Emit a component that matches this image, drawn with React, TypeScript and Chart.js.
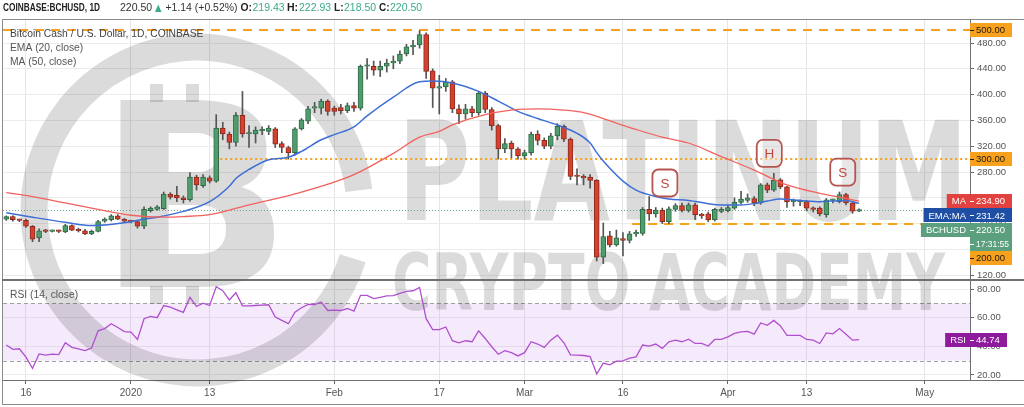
import React, { useEffect, useRef } from 'react';
import { Chart, registerables } from 'chart.js';

Chart.register(...registerables);

const FONT = '"Liberation Sans", "DejaVu Sans", Arial, sans-serif';

// Day offsets counted from 2020-01-01 (= day 0). First candle: 2019-12-13.
const firstCandleDay = -19;

const opens = [
  207, 211, 206, 205, 196, 178, 189, 188, 189, 187,
  197, 191, 189, 184, 188, 204, 206, 212, 207, 204,
  203, 196, 220, 222, 223, 246, 244, 240, 237, 272,
  259, 271, 266, 348, 339, 326, 368, 339, 339, 344,
  343, 347, 324, 318, 310, 347, 359, 379, 379, 390,
  379, 380, 375, 383, 379, 444, 444, 438, 444, 449,
  452, 463, 474, 477, 493, 437, 410, 412, 420, 378,
  370, 378, 372, 402, 377, 352, 316, 325, 316, 305,
  310, 339, 329, 320, 336, 351, 331, 275, 273, 272,
  267, 148, 181, 167, 177, 174, 184, 185, 222, 215,
  220.5, 203, 222, 228, 220.5, 229, 214, 215, 206, 219,
  220, 224, 233, 236, 239, 232, 260, 252, 268, 257,
  234, 234, 234, 224, 224, 214, 236, 234, 245, 232, 219.43,
];
const highs = [
  212, 212, 207, 207, 197, 192, 191, 190, 190, 199,
  198, 193, 191, 190, 205, 209, 214, 214, 208, 205,
  205, 226, 226, 228, 249, 248, 258, 243, 279, 275,
  276, 274, 369, 357, 342, 372, 405, 352, 350, 350,
  352, 349, 327, 320, 349, 363, 382, 388, 393, 392,
  382, 385, 387, 388, 446, 456, 452, 452, 455, 460,
  468, 478, 484, 499, 496, 440, 430, 425, 422, 384,
  385, 382, 405, 405, 380, 354, 332, 328, 318, 314,
  342, 344, 333, 340, 355, 353, 333, 285, 276, 276,
  268, 201, 188, 190, 186, 188, 190, 225, 242, 225,
  224, 226, 231, 232, 232, 232, 216, 218, 224, 225,
  228, 240, 250, 246, 242, 262, 263, 278, 270, 258,
  238, 237, 236, 226, 226, 239, 238, 249, 247, 234, 222.93,
];
const lows = [
  205, 204, 203, 194, 172, 172, 186, 187, 186, 186,
  189, 187, 183, 183, 187, 202, 204, 206, 202, 201,
  193, 192, 218, 221, 222, 238, 234, 232, 235, 252,
  256, 263, 264, 330, 316, 320, 334, 318, 325, 338,
  338, 318, 310, 300, 306, 345, 355, 372, 370, 368,
  368, 370, 372, 374, 376, 424, 430, 428, 435, 440,
  448, 460, 462, 472, 425, 380, 370, 405, 372, 355,
  362, 366, 368, 372, 345, 300, 310, 302, 300, 300,
  306, 322, 316, 316, 330, 327, 268, 260, 260, 255,
  142, 138, 164, 165, 150, 170, 180, 182, 205, 210,
  200, 200, 219, 218, 218, 206, 208, 203, 204, 217,
  218, 222, 231, 233, 228, 230, 248, 250, 254, 225,
  227, 228, 220, 218, 212, 210, 232, 232, 229, 216, 218.5,
];
const closes = [
  211, 206, 205, 196, 176, 189, 188, 189, 188, 197,
  190, 189, 184, 188, 203, 207, 212, 207, 204, 203,
  196, 222, 224, 226, 246, 241, 240, 237, 272, 260,
  272, 266, 348, 339, 326, 368, 339, 339, 345, 344,
  348, 323, 318, 310, 347, 361, 378, 379, 390, 374,
  374, 375, 383, 379, 444, 444, 438, 444, 449, 452,
  463, 474, 477, 493, 436, 410, 410, 420, 378, 370,
  378, 372, 402, 377, 352, 316, 324, 316, 305, 310,
  339, 329, 320, 336, 351, 331, 273, 273, 271, 267,
  148, 180, 167, 178, 174, 184, 186, 222, 215, 221,
  203, 223, 228, 220.5, 229, 214, 212, 206, 222, 222,
  225, 233, 238, 240, 232, 260, 252, 267, 257, 234,
  234, 234, 224, 222, 215, 237, 236, 245, 232, 219.4, 220.5,
];
const rsiValues = [
  40.9, 37.9, 38.3, 32.4, 24.6, 34.7, 33.8, 34.5, 34.2, 42.5,
  39.3, 38.3, 37.0, 38.8, 50.8, 52.4, 55.8, 53.1, 50.3, 49.9,
  44.8, 59.3, 60.9, 60.0, 68.5, 67.4, 65.5, 63.7, 74.2, 67.8,
  70.1, 68.5, 81.6, 78.8, 72.4, 77.4, 68.3, 68.3, 68.5, 68.7,
  69.0, 60.4, 58.1, 55.8, 63.9, 66.9, 69.2, 69.2, 71.0, 65.0,
  65.3, 65.0, 66.4, 64.6, 75.6, 75.6, 73.3, 74.2, 75.2, 75.4,
  77.0, 78.4, 78.8, 81.1, 59.3, 51.7, 51.7, 53.5, 43.9, 42.5,
  43.9, 43.2, 50.8, 45.5, 39.7, 34.5, 37.0, 35.6, 33.3, 35.6,
  43.2, 41.6, 39.3, 44.3, 47.8, 42.5, 34.0, 33.8, 33.6, 32.9,
  20.7, 28.3, 27.1, 29.6, 29.8, 31.7, 32.6, 40.9, 40.2, 41.6,
  38.6, 43.2, 44.3, 43.2, 45.0, 42.0, 42.0, 40.2, 44.8, 44.8,
  46.6, 49.0, 50.1, 50.5, 48.5, 56.3, 54.7, 58.1, 54.2, 47.6,
  47.6, 47.6, 44.8, 44.3, 42.0, 49.4, 48.7, 52.4, 48.5, 44.3, 44.74,
];

const emaDays = [-19, -15, -10, -6, 0, 2, 4, 8, 12, 15, 16, 18, 21, 24, 26, 29, 31, 34, 36, 40, 44, 46, 49, 53, 56, 59, 62, 65, 68, 70, 71, 72, 73, 75, 77, 80, 82, 85, 88, 90, 93, 95, 97, 99, 102, 105, 107, 109, 111];
const emaValues = [217, 210, 202, 197, 203, 207, 210, 219, 234, 258, 270, 284, 299, 303, 312, 330, 338, 350, 367, 396, 420, 421, 418, 405, 390, 374, 363, 353, 340, 325, 310, 297, 286, 266, 252, 242, 238, 236, 231, 229, 229, 231, 235, 238, 236, 234, 235, 236, 231.42];
const maDays = [-19, -15, -10, -5, 0, 5, 8, 12, 15, 18, 25, 34, 40, 44, 47, 49, 54, 59, 62, 66, 69, 74, 77, 81, 85, 90, 95, 100, 105, 108, 111];
const maValues = [248, 242, 232, 222, 213, 210, 211, 214, 221, 229, 246, 276, 309, 334, 343, 353, 369, 377, 378, 376, 372, 356, 346, 334, 325, 304, 283, 260, 247, 241, 234.9];

const xTickDays = [-16, 0, 12, 31, 47, 60, 75, 91, 103, 121];
const xTickLabels = ['16', '2020', '13', 'Feb', '17', 'Mar', '16', 'Apr', '13', 'May'];
const priceTicks = [120, 160, 200, 240, 280, 320, 360, 400, 440, 480];
const rsiTicks = [20, 40, 60, 80];

const levelValues = [500, 300, 200];
const levelStartDays = [-19.5, 13.6, 76.4];
const patternLabels = ['S', 'H', 'S'];
const patternDays = [81.4, 97.3, 108.5];
const patternPrices = [263, 309, 280];

const tagNames = ['MA', 'EMA:MA', 'BCHUSD'];
const tagValues = [234.9, 231.42, 220.5];
const countdownText = '17:31:55';
const lastRsi = 44.74;

const UP = '#4f9d6c';
const UP_BORDER = '#2e6a45';
const DOWN = '#d5402f';
const DOWN_BORDER = '#8a2a1d';
const ORANGE = '#f7a11c';

const days = opens.map((_, i) => firstCandleDay + i);
const isUp = closes.map((c, i) => c >= opens[i]);

const decor = {
  id: 'decor',
  beforeDraw(chart: any) {
    const ctx = chart.ctx;
    ctx.save();
    ctx.fillStyle = '#ffffff';
    ctx.fillRect(0, 0, chart.width, chart.height);
    ctx.restore();
  },
  beforeDatasetsDraw(chart: any) {
    const { ctx, chartArea } = chart;
    const x = chart.scales.x;
    const y = chart.scales.y;
    const yr = chart.scales.yRsi;
    const L = chartArea.left;
    const R = chartArea.right;
    ctx.save();
    // RSI band
    const t70 = yr.getPixelForValue(70);
    const t30 = yr.getPixelForValue(30);
    ctx.fillStyle = 'rgba(170, 80, 230, 0.12)';
    ctx.fillRect(L, t70, R - L, t30 - t70);
    ctx.strokeStyle = '#a0a0a0';
    ctx.lineWidth = 1;
    ctx.setLineDash([4, 3]);
    [t70, t30].forEach((py: number) => {
      ctx.beginPath();
      ctx.moveTo(L, Math.round(py) + 0.5);
      ctx.lineTo(R, Math.round(py) + 0.5);
      ctx.stroke();
    });
    ctx.setLineDash([]);

    // watermark
    ctx.fillStyle = 'rgba(0,0,0,0.14)';
    ctx.strokeStyle = 'rgba(0,0,0,0.14)';
    ctx.lineWidth = 27;
    ctx.beginPath();
    ctx.arc(197, 210, 163, 0.3, Math.PI * 2 - 0.12);
    ctx.stroke();
    ctx.textAlign = 'left';
    ctx.textBaseline = 'alphabetic';
    ctx.font = 'bold 256px "DejaVu Sans"';
    ctx.fillText('B', 97, 287);
    ctx.fillRect(150, 84, 13, 18);
    ctx.fillRect(186, 84, 13, 18);
    ctx.fillRect(150, 286, 13, 18);
    ctx.fillRect(186, 286, 13, 18);
    ctx.font = 'bold 137px "DejaVu Sans"';
    ctx.fillText('PLATINUM', 398, 220, 570);
    ctx.font = 'bold 78px "DejaVu Sans"';
    ctx.fillText('CRYPTO ACADEMY', 392, 310, 553);

    // price pane clip
    ctx.beginPath();
    ctx.rect(L, y.top, R - L, y.bottom - y.top);
    ctx.clip();
    // current price dotted line
    ctx.strokeStyle = '#6aa88a';
    ctx.lineWidth = 1;
    ctx.setLineDash([1, 2]);
    const cy = Math.round(y.getPixelForValue(closes[closes.length - 1])) + 0.5;
    ctx.beginPath();
    ctx.moveTo(L, cy);
    ctx.lineTo(R, cy);
    ctx.stroke();
    // levels
    ctx.strokeStyle = ORANGE;
    ctx.lineWidth = 2;
    levelValues.forEach((v, i) => {
      ctx.setLineDash(i === 1 ? [2, 3] : [9, 7]);
      const py = Math.round(y.getPixelForValue(v));
      ctx.beginPath();
      ctx.moveTo(x.getPixelForValue(levelStartDays[i]), py);
      ctx.lineTo(R, py);
      ctx.stroke();
    });
    ctx.restore();
  },
  afterDraw(chart: any) {
    const { ctx, chartArea } = chart;
    const x = chart.scales.x;
    const y = chart.scales.y;
    const yr = chart.scales.yRsi;
    const R = chartArea.right;
    ctx.save();

    // frame and separators
    ctx.strokeStyle = '#8a8a8a';
    ctx.lineWidth = 1;
    ctx.strokeRect(2.5, 19.5, chart.width, 385);
    ctx.strokeStyle = '#707070';
    ctx.lineWidth = 2;
    ctx.beginPath();
    ctx.moveTo(2, Math.round(yr.top));
    ctx.lineTo(chart.width, Math.round(yr.top));
    ctx.stroke();
    ctx.lineWidth = 1;
    ctx.beginPath();
    ctx.moveTo(R, Math.round(chartArea.bottom) + 0.5);
    ctx.lineTo(chart.width, Math.round(chartArea.bottom) + 0.5);
    ctx.stroke();

    // header
    ctx.textBaseline = 'middle';
    ctx.textAlign = 'left';
    const hy = 8;
    const piece = (t: string, px: number, w: number, bold: boolean, color: string) => {
      ctx.font = `${bold ? 'bold ' : ''}10.5px ${FONT}`;
      ctx.fillStyle = color;
      ctx.fillText(t, px, hy, w);
    };
    const dark = '#222222';
    const green = '#3aa98d';
    piece('COINBASE:BCHUSD, 1D', 3, 97, true, dark);
    piece('220.50', 120, 33, false, '#333333');
    ctx.fillStyle = green;
    ctx.beginPath();
    ctx.moveTo(155, 12);
    ctx.lineTo(161.5, 12);
    ctx.lineTo(158.25, 4.5);
    ctx.closePath();
    ctx.fill();
    piece('+1.14 (+0.52%)', 165.5, 72, false, '#333333');
    piece('O:', 240.5, 11.5, true, dark);
    piece('219.43', 252.5, 33, false, green);
    piece('H:', 287, 11.5, true, dark);
    piece('222.93', 299, 33, false, green);
    piece('L:', 334, 9.5, true, dark);
    piece('218.50', 344, 33, false, green);
    piece('C:', 379, 10.5, true, dark);
    piece('220.50', 390, 33, false, green);

    // legends
    ctx.font = `10.3px ${FONT}`;
    ctx.fillStyle = '#444444';
    ctx.fillText('Bitcoin Cash / U.S. Dollar, 1D, COINBASE', 10, 34, 196);
    ctx.fillStyle = '#555555';
    ctx.fillText('EMA (20, close)', 10, 48);
    ctx.fillText('MA (50, close)', 10, 62);
    ctx.fillText('RSI (14, close)', 10, Math.round(yr.top) + 15);

    // pattern annotations
    patternLabels.forEach((lab, i) => {
      const px = x.getPixelForValue(patternDays[i]);
      const py = y.getPixelForValue(patternPrices[i]);
      const w = 25, h = 27, r = 6;
      const lx = px - w / 2, ty = py - h / 2;
      ctx.beginPath();
      ctx.moveTo(lx + r, ty);
      ctx.arcTo(lx + w, ty, lx + w, ty + h, r);
      ctx.arcTo(lx + w, ty + h, lx, ty + h, r);
      ctx.arcTo(lx, ty + h, lx, ty, r);
      ctx.arcTo(lx, ty, lx + w, ty, r);
      ctx.closePath();
      ctx.fillStyle = 'rgba(255,255,255,0.35)';
      ctx.fill();
      ctx.strokeStyle = '#b65450';
      ctx.lineWidth = 1.8;
      ctx.stroke();
      ctx.fillStyle = '#c0463f';
      ctx.font = `13.5px ${FONT}`;
      ctx.textAlign = 'center';
      ctx.fillText(lab, px, py + 1);
    });

    // right-side tags
    const tag = (yc: number, name: string, value: string, bg: string, fg: string, right: number) => {
      ctx.font = `9.5px ${FONT}`;
      const nameW = name ? ctx.measureText(name).width : 0;
      const left = name ? R - 4 - nameW - 5 : R;
      ctx.fillStyle = bg;
      ctx.fillRect(left, Math.round(yc) - 7, right - left, 14);
      ctx.fillStyle = fg;
      ctx.textBaseline = 'middle';
      if (name) {
        ctx.textAlign = 'right';
        ctx.fillText(name, R - 4, yc + 0.5);
      }
      ctx.textAlign = 'left';
      ctx.fillText(value, R + 6, yc + 0.5, right - R - 9);
      ctx.strokeStyle = fg;
      ctx.lineWidth = 1;
      ctx.beginPath();
      ctx.moveTo(R, Math.round(yc) + 0.5);
      ctx.lineTo(R + 4, Math.round(yc) + 0.5);
      ctx.stroke();
    };
    tag(y.getPixelForValue(levelValues[0]), '', levelValues[0].toFixed(2), ORANGE, '#1a1a1a', 1012);
    tag(y.getPixelForValue(levelValues[1]), '', levelValues[1].toFixed(2), ORANGE, '#1a1a1a', 1012);
    const gap = 14.3;
    const yMa = y.getPixelForValue(tagValues[0]);
    const yEma = Math.max(y.getPixelForValue(tagValues[1]), yMa + gap);
    const yPx = Math.max(y.getPixelForValue(tagValues[2]), yEma + gap);
    const yCd = yPx + gap;
    const yLv = Math.max(y.getPixelForValue(levelValues[2]), yCd + gap);
    tag(yMa, tagNames[0], tagValues[0].toFixed(2), '#e2423f', '#ffffff', 1012);
    tag(yEma, tagNames[1], tagValues[1].toFixed(2), '#1f4fa5', '#ffffff', 1012);
    tag(yPx, tagNames[2], tagValues[2].toFixed(2), '#5b9f7e', '#ffffff', 1012);
    tag(yCd, '', countdownText, '#5b9f7e', '#ffffff', 1012);
    tag(yLv, '', levelValues[2].toFixed(2), ORANGE, '#1a1a1a', 1012);
    tag(yr.getPixelForValue(lastRsi), 'RSI', lastRsi.toFixed(2), '#8e1a9c', '#ffffff', 1007);
    ctx.restore();
  },
};

export default function App() {
  const ref = useRef<HTMLCanvasElement>(null);
  useEffect(() => {
    document.body.style.margin = '0';
    const canvas = ref.current;
    if (!canvas) return;
    const axisFont = { family: FONT, size: 9.5 };
    const chart = new Chart(canvas, {
      type: 'bar',
      data: {
        datasets: [
          {
            type: 'line',
            label: 'MA',
            data: maDays.map((d, i) => ({ x: d, y: maValues[i] })),
            borderColor: '#f2625e',
            borderWidth: 1.3,
            pointRadius: 0,
            tension: 0.35,
            cubicInterpolationMode: 'monotone',
            yAxisID: 'y',
            order: 0,
          } as any,
          {
            type: 'line',
            label: 'EMA',
            data: emaDays.map((d, i) => ({ x: d, y: emaValues[i] })),
            borderColor: '#3d6fd4',
            borderWidth: 1.5,
            pointRadius: 0,
            tension: 0.35,
            cubicInterpolationMode: 'monotone',
            yAxisID: 'y',
            order: 0,
          } as any,
          {
            type: 'bar',
            label: 'bodies',
            data: days.map((d, i) => ({ x: d, y: [opens[i], closes[i]] })),
            backgroundColor: isUp.map((u) => (u ? UP : DOWN)),
            borderColor: isUp.map((u) => (u ? UP_BORDER : DOWN_BORDER)),
            borderWidth: 1,
            borderSkipped: false,
            barThickness: 5,
            minBarLength: 1.5,
            grouped: false,
            yAxisID: 'y',
            order: 1,
          } as any,
          {
            type: 'bar',
            label: 'wicks',
            data: days.map((d, i) => ({ x: d, y: [lows[i], highs[i]] })),
            backgroundColor: '#555555',
            borderWidth: 0,
            barThickness: 1,
            grouped: false,
            yAxisID: 'y',
            order: 2,
          } as any,
          {
            type: 'line',
            label: 'RSI',
            data: days.map((d, i) => ({ x: d, y: rsiValues[i] })),
            borderColor: '#b04fce',
            borderWidth: 1.3,
            pointRadius: 0,
            tension: 0,
            yAxisID: 'yRsi',
            order: 0,
          } as any,
        ],
      },
      options: {
        responsive: false,
        animation: false,
        events: [],
        layout: { padding: { left: 3, top: 20, right: 0, bottom: 0 } },
        plugins: { legend: { display: false }, tooltip: { enabled: false } },
        scales: {
          x: {
            type: 'linear',
            min: -19.5,
            max: 127.9,
            offset: false,
            afterBuildTicks: (s: any) => {
              s.ticks = xTickDays.map((v) => ({ value: v }));
            },
            afterFit: (s: any) => {
              s.height = 27;
            },
            ticks: {
              autoSkip: false,
              maxRotation: 0,
              padding: 3,
              color: '#555555',
              font: { family: FONT, size: 10 },
              callback: (v: any) => {
                const i = xTickDays.indexOf(Number(v));
                return i >= 0 ? xTickLabels[i] : '';
              },
            },
            grid: { color: '#e6e6e6', tickLength: 4, tickColor: '#666666', offset: false },
            border: { color: '#707070' },
          },
          y: {
            type: 'linear',
            position: 'right',
            stack: 'panes',
            stackWeight: 260,
            min: 112.6,
            max: 515.7,
            afterBuildTicks: (s: any) => {
              s.ticks = priceTicks.map((v) => ({ value: v }));
            },
            afterFit: (s: any) => {
              s.width = 54;
            },
            ticks: {
              autoSkip: false,
              padding: 3,
              color: '#555555',
              font: axisFont,
              callback: (v: any) => Number(v).toFixed(2),
            },
            grid: { color: '#ececec', tickLength: 4, tickColor: '#666666' },
            border: { color: '#707070' },
          },
          yRsi: {
            type: 'linear',
            position: 'right',
            stack: 'panes',
            stackWeight: 100,
            min: 16.5,
            max: 86.3,
            afterBuildTicks: (s: any) => {
              s.ticks = rsiTicks.map((v) => ({ value: v }));
            },
            afterFit: (s: any) => {
              s.width = 54;
            },
            ticks: {
              autoSkip: false,
              padding: 3,
              color: '#555555',
              font: axisFont,
              callback: (v: any) => Number(v).toFixed(2),
            },
            grid: { color: '#ececec', tickLength: 4, tickColor: '#666666' },
            border: { color: '#707070' },
          },
        },
      } as any,
      plugins: [decor],
    });
    return () => chart.destroy();
  }, []);
  return (
    <div style={{ position: 'absolute', left: 0, top: 0, width: 1024, height: 407, background: '#fff' }}>
      <canvas ref={ref} width={1024} height={407} style={{ display: 'block', width: 1024, height: 407 }} />
    </div>
  );
}
